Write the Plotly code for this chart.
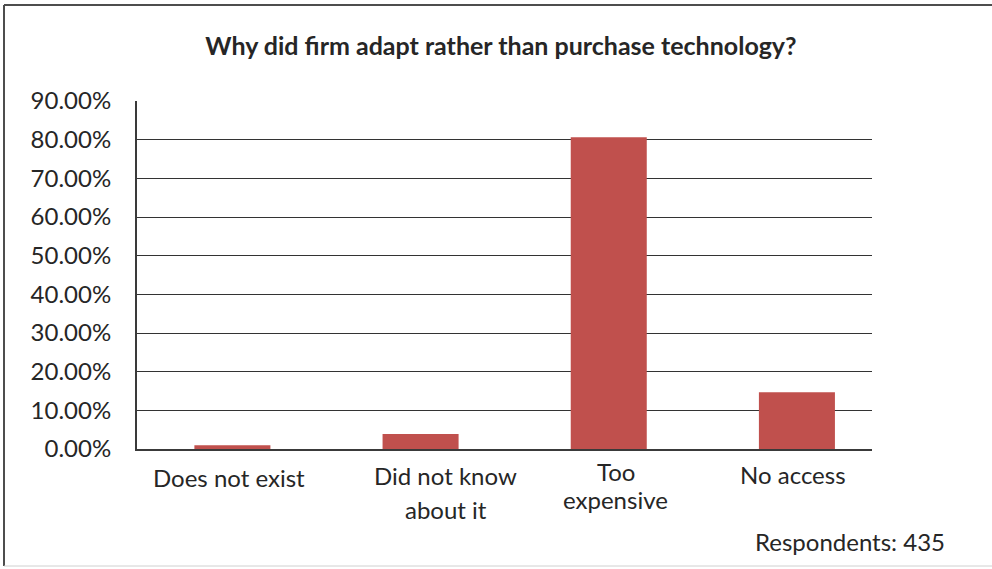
import plotly.graph_objects as go

# Survey responses (share of respondents, %)
categories = ["Does not exist", "Did not know<br>about it", "Too<br>expensive", "No access"]
shares = [1.0, 3.9, 80.6, 14.7]
y_ticks = [0, 10, 20, 30, 40, 50, 60, 70, 80, 90]
y_tick_labels = [f"{v:.2f}%" for v in y_ticks]
respondents = 435

W, H = 992, 569
L, R, T, B = 137, 120, 101, 120
FONT = "Lato"
TEXT = "#262626"
FS = 24

# per-category label placement: (x shift px, first-line drop below axis px, line pitch px)
label_style = [(-3, 28, 0), (25, 26, 34), (7, 22, 28), (-4, 25, 0)]

x_idx = list(range(len(categories)))

fig = go.Figure(
    go.Bar(
        x=x_idx,
        y=shares,
        width=0.404,
        marker=dict(color="#C0504D", line=dict(width=0)),
        hoverinfo="skip",
    )
)

fig.update_layout(
    width=W,
    height=H,
    margin=dict(l=L, r=R, t=T, b=B, pad=0),
    paper_bgcolor="white",
    plot_bgcolor="white",
    showlegend=False,
    font=dict(family=FONT, size=FS, color=TEXT),
    title=dict(
        text="Why did firm adapt rather than purchase technology?",
        font=dict(family=FONT, size=25, color=TEXT, weight="bold"),
        x=0.505,
        xanchor="center",
        xref="container",
        y=1 - 46 / H,
        yanchor="middle",
        yref="container",
    ),
    xaxis=dict(
        range=[-0.507, 3.399],
        tickmode="array",
        tickvals=x_idx,
        ticktext=[""] * len(x_idx),
        showgrid=False,
        zeroline=False,
        showline=True,
        linecolor="#3a3a3a",
        linewidth=2,
        ticks="",
        fixedrange=True,
    ),
    yaxis=dict(
        range=[0, 90],
        tickmode="array",
        tickvals=y_ticks,
        ticktext=y_tick_labels,
        showgrid=True,
        gridcolor="#333333",
        gridwidth=1,
        zeroline=False,
        showline=True,
        linecolor="#3a3a3a",
        linewidth=2,
        ticks="",
        ticklabelstandoff=19,
        tickfont=dict(family=FONT, size=FS, color=TEXT),
        fixedrange=True,
    ),
)

# category labels under the axis, one text line at a time
for i, (cat, (dx, drop, pitch)) in enumerate(zip(categories, label_style)):
    for k, line in enumerate(cat.split("<br>")):
        fig.add_annotation(
            text=line,
            x=x_idx[i], y=0, xref="x", yref="y",
            xanchor="center", yanchor="middle",
            xshift=dx, yshift=-(drop + k * pitch),
            showarrow=False,
            font=dict(family=FONT, size=FS, color=TEXT),
        )

# pixel -> paper helpers for the outer frame
pw, ph = W - L - R, H - T - B


def px(xp):
    return (xp - L) / pw


def py(yp):
    return (H - B - yp) / ph


# outer chart frame
fig.add_shape(type="line", xref="paper", yref="paper",
              x0=px(4), x1=px(4), y0=py(5), y1=py(566),
              line=dict(color="#4d4d4d", width=2))
fig.add_shape(type="line", xref="paper", yref="paper",
              x0=px(4), x1=px(992), y0=py(5), y1=py(5),
              line=dict(color="#4d4d4d", width=2))
fig.add_shape(type="line", xref="paper", yref="paper",
              x0=px(4), x1=px(992), y0=py(566), y1=py(566),
              line=dict(color="#d0d0d0", width=1))

fig.add_annotation(
    text=f"Respondents: {respondents}",
    xref="paper", yref="paper",
    x=px(947), y=py(541),
    xanchor="right", yanchor="middle",
    showarrow=False,
    font=dict(family=FONT, size=FS, color=TEXT),
)

fig.write_html("out.html")
